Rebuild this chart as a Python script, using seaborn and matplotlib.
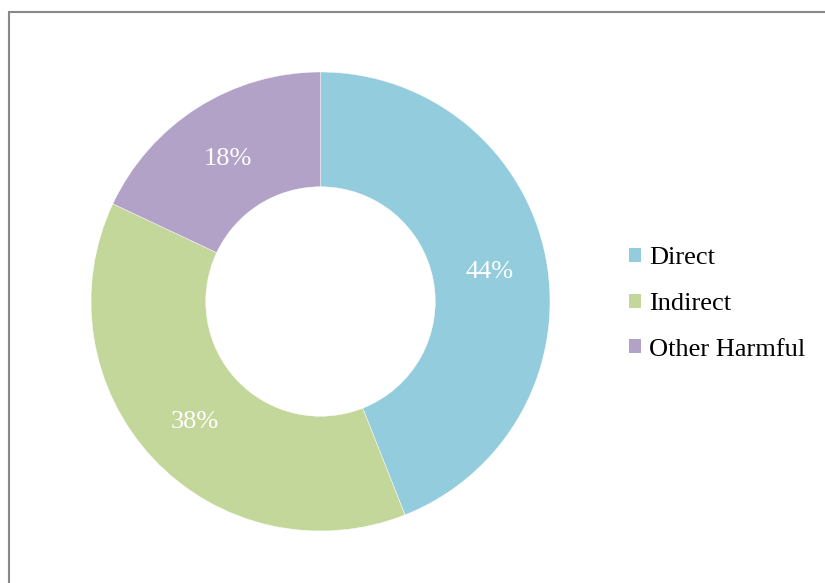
import matplotlib
matplotlib.use("Agg")
import matplotlib.pyplot as plt
from matplotlib.patches import Patch, Rectangle
import seaborn as sns

# Share of incidents by category
categories = ["Direct", "Indirect", "Other Harmful"]
shares = [44, 38, 18]
colors = ["#93CDDD", "#C4D79B", "#B3A2C7"]

sns.set_theme(style="white")
plt.rcParams["font.family"] = ["Liberation Serif", "DejaVu Serif"]
plt.rcParams["text.color"] = "black"

W, H = 825, 583
fig = plt.figure(figsize=(W / 100, H / 100), dpi=100)
fig.patch.set_facecolor("white")

# Square axes holding the donut, sized in pixels
cx, cy, R = 320.5, 301.5, 229.5
ax = fig.add_axes([(cx - R) / W, (H - cy - R) / H, 2 * R / W, 2 * R / H])

palette = sns.color_palette(colors)
wedges, texts, autotexts = ax.pie(
    shares,
    colors=palette,
    startangle=90,
    counterclock=False,
    radius=1.0,
    autopct=lambda p: f"{p:.0f}%",
    pctdistance=0.75,
    wedgeprops=dict(width=0.5, edgecolor="white", linewidth=0.3),
    textprops=dict(color="white", fontsize=19),
)
for t in autotexts:
    t.set_verticalalignment("center_baseline")
ax.set_xlim(-1, 1)
ax.set_ylim(-1, 1)
ax.set_aspect("equal")
ax.axis("off")

handles = [Patch(facecolor=c, edgecolor="none") for c in palette]
fig.legend(
    handles,
    categories,
    loc="center left",
    bbox_to_anchor=(629 / W, (H - 304) / H),
    frameon=False,
    fontsize=19,
    labelcolor="black",
    handlelength=0.45,
    handleheight=0.45,
    handletextpad=0.3,
    labelspacing=0.9,
    borderpad=0,
    borderaxespad=0,
)

# Chart frame: top and left edges visible within the canvas
fig.add_artist(
    Rectangle(
        (8.5 / W, -0.2),
        2.0,
        (H - 11.5) / H + 0.2,
        transform=fig.transFigure,
        fill=False,
        edgecolor="#888888",
        linewidth=1.5,
    )
)

fig.savefig("out.png", dpi=100, facecolor="white")
